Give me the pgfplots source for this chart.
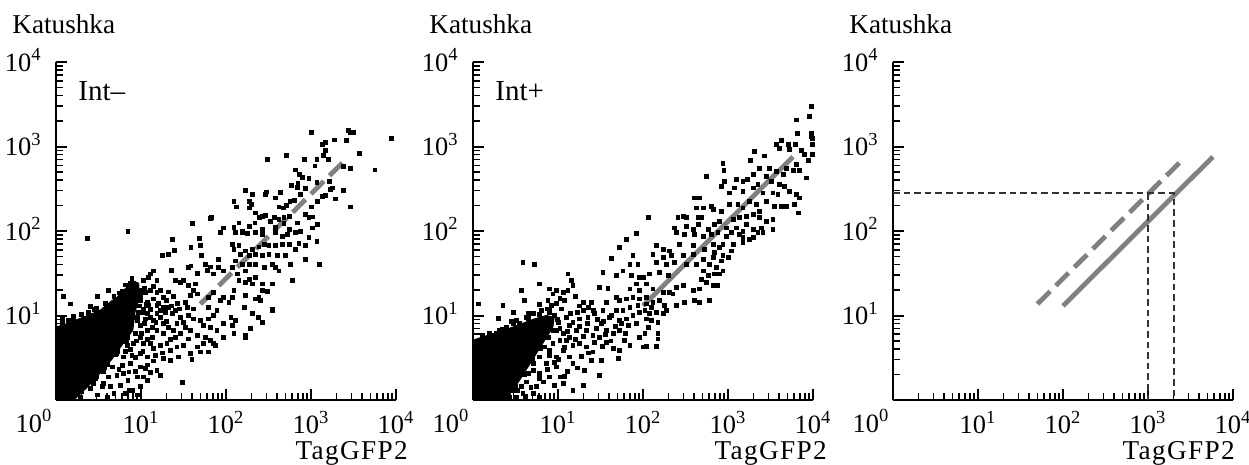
\documentclass[border=0pt]{standalone}
\usepackage{fontspec}
\setmainfont{Liberation Serif}
\newfontfamily\spacedfont[LetterSpace=5]{Liberation Serif}
\usepackage{pgfplots}
\pgfplotsset{compat=1.18}
\definecolor{fitgray}{RGB}{128,128,128}

\newcommand{\tickfont}{\fontsize{13.2bp}{15bp}\selectfont}
\newcommand{\ylabfont}{\fontsize{13.6bp}{16bp}\selectfont}
\newcommand{\xlabfont}{\spacedfont\fontsize{13.6bp}{16bp}\selectfont}

\pgfplotsset{
  every axis/.append style={
    width=170bp, height=169bp, scale only axis,
    anchor=south west,
    xmin=1, xmax=10000, ymin=1, ymax=10000,
    axis lines=left,
    axis line style={-, line width=1.2bp},
    tick align=inside,
    xtick={10,100,1000,10000},
    ytick={10,100,1000,10000},
    xticklabels={10\textsuperscript{1},10\textsuperscript{2},10\textsuperscript{3},10\textsuperscript{4}},
    yticklabels={10\textsuperscript{1},10\textsuperscript{2},10\textsuperscript{3},10\textsuperscript{4}},
    minor xtick={2,3,4,5,6,7,8,9,20,30,40,50,60,70,80,90,200,300,400,500,600,700,800,900,2000,3000,4000,5000,6000,7000,8000,9000},
    minor ytick={2,3,4,5,6,7,8,9,20,30,40,50,60,70,80,90,200,300,400,500,600,700,800,900,2000,3000,4000,5000,6000,7000,8000,9000},
    major tick length=5.5bp, minor tick length=3.3bp,
    tick style={black, line width=1bp},
    minor tick style={line width=0.75bp},
    xticklabel style={anchor=base, inner sep=0pt, yshift=-16.8bp, font=\tickfont},
    yticklabel style={anchor=base east, inner sep=0pt, xshift=-7bp, yshift=-4.5bp, font=\tickfont},
  },
}
\tikzset{
  kdots/.style={only marks, mark=square*, mark size=0.95bp, black},
  kblob/.style={fill=black, draw=black, line width=0.5bp},
  kfitdash/.style={fitgray, line width=2.4bp, dash pattern=on 9bp off 4bp},
  kfitsolid/.style={fitgray, line width=2.4bp},
  kguide/.style={black!80, line width=0.9bp, dash pattern=on 3.3bp off 2bp},
}

\begin{document}
\begin{tikzpicture}
\path[use as bounding box] (0,0) rectangle (624.5bp,232.5bp);

% ---------- panel 1: Int- ----------
\begin{loglogaxis}[name=p1, at={(28bp,32.5bp)}]
\addplot[kblob] coordinates {
(1,7.3)(1.34,8.0)(2.1,9.55)(3.3,11.5)(4.36,14.5)(5.2,16.4)(6.8,21.5)(8.1,25.8)(9.4,24)
(9.5,16)(8.5,11)(8,6.7)(6,4.5)(4.5,3)(3.2,2)(2.3,1.4)(1.7,1.05)(1.5,1)(1,1)(1,7.3)};
\addplot[kdots] coordinates {
(1020,1460)(2750,1550)(2930,1460)(3200,1460)(8900,1250)(1900,1200)(2630,1190)(1480,1130)(1360,1050)(1490,890)
(3670,820)(306,710)(518,780)(840,710)(1170,710)(1410,780)(1600,710)(1110,590)(5660,530)(2900,556)
(2420,582)(660,530)(736,464)(790,432)(947,417)(1170,377)(1630,388)(1780,323)(1700,312)(2400,301)
(593,348)(703,364)(690,330)(866,318)(170,304)(204,270)(290,270)(440,285)(301,290)(124,225)
(132,193)(190,225)(199,206)(187,188)(384,247)(420,193)(472,188)(566,225)(513,202)(631,232)
(743,270)(1010,193)(1190,225)(1350,258)(1490,263)(1950,240)(2930,193)(223,164)(249,144)(267,150)
(293,154)(367,146)(420,137)(481,144)(551,150)(866,157)(947,144)(1040,147)(124,111)(142,125)
(187,114)(219,125)(267,105)(335,131)(384,111)(481,123)(551,105)(690,125)(755,100)(1040,109)
(1190,120)(156,100)(40.5,122)(68,144)(66,140)(94,109)
(2.36,82)(7.0,98)(23.2,80)(49,82)(86,96)(17.7,51)(20.8,53)(24.7,59)(38.7,64)(50,67)
(51,51)(82,46)(22.7,34.4)(36.4,37)(38.7,38.7)(45.6,31.5)(57,40.5)(60,34.4)(65.5,37.7)(71.6,31)
(82,37)(94,33.8)(14.1,33.8)(12.9,31)(12.3,28.3)(15.4,25.8)(10.7,25.8)(4.17,19.7)(3.04,16.7)(1.23,16.7)
(1.47,13.7)(2.53,12.8)(8.6,20)(9.8,17.2)(11.2,18.8)(12.9,19.7)(15.4,18.8)(18.5,16.4)(11.8,14.4)(12.3,13.1)
(25.4,25.8)(29,24.7)(31.8,26.3)(36.4,22.5)(43.5,23.6)(41.7,19.7)(45.6,18)(38,17.2)(33.2,14.4)(34.8,12.5)
(41.7,12)(62.5,16.4)(71.6,18.8)(86,15)(94,16.4)(78,11.5)(62.5,12.5)(71.6,10)(8.2,9.55)(9.0,8.7)
(9.8,7.6)(11.2,9.1)(12.9,9.55)(15.4,10.5)(16.9,11.5)(19.3,10.9)(21.1,12.5)(23.2,10.5)(25.4,11.5)(29,9.55)
(26.5,8.0)(31.8,8.35)(36.4,10)(41.7,9.1)(50,8.7)(54.6,7.6)(62.5,9.1)(65.5,7.3)(78,6.7)(94,8.0)
(94,5.56)(7.2,6.7)(8.6,6.1)(9.8,5.56)(11.8,6.7)(13.5,5.56)(15.4,6.7)(18.5,6.1)(21.1,7.3)(24.2,6.7)
(25.4,5.56)(29,6.1)(33.2,7.3)(38,6.7)(36.4,5.3)(45.6,5.8)(57,5.56)(65.5,5.1)(71.6,4.64)(54.6,4.64)
(45.6,4.24)(6.25,5.1)(6.85,4.44)(8.2,4.64)(10.7,4.64)(12.9,4.64)(14.1,4.06)(16.9,4.44)(20.2,4.64)(22.1,3.87)
(26.5,4.24)(31.8,4.44)(38,3.54)(50,3.7)(62.5,3.7)(75,4.44)(5.2,3.54)(6.25,3.24)(7.8,3.38)(9.8,3.54)
(11.8,3.24)(14.7,3.38)(18.5,3.09)(22.1,2.96)(27.7,3.24)(39.8,3.0)(4.0,2.7)(4.56,2.47)(6.0,2.58)(7.5,2.7)
(9.8,2.47)(11.2,2.36)(15.4,2.25)(3.18,2.25)(4.17,1.88)(5.2,1.97)(6.25,2.06)(7.2,2.15)(9.0,1.88)(10.7,1.88)
(16.9,1.97)(2.21,1.72)(2.77,1.57)(3.64,1.57)(3.48,1.44)(4.36,1.44)(7.2,1.31)(9.8,1.44)(30.4,1.6)(1.85,1.31)
(2.53,1.37)(1.93,1.09)(3.04,1.15)(4.0,1.09)(9.0,1.15)(1.61,9.7)(1.18,9.1)
(9.8,15)(14.1,15.7)(15.4,13.1)(18.5,12.5)(10.7,12)(9.4,10.9)(14.1,8.7)(18.5,8.0)(8.2,13.1)(11.8,10.5)
(9.5,13)(10.5,11)(11,8)(10,6.2)(8.8,5)(7.5,4)(6.5,3.8)(8.5,3.2)(10.5,3.8)(12,5.2)
(13.5,7.2)(15,8.2)(17,9.5)(13,11.8)(11.5,13.5)(16,14)(20,15)(17,20)(14,22)(11,21)
(21,19)(24,17)(27,14)(23,13)(28,12)(20,8.5)(22,5.2)(18,3.6)(14,2.9)(12,2.6)
(8.5,2.2)(5.5,2.3)(7,1.7)(5.7,1.5)(12,1.7)(13,2.1)(4.8,1.2)(6.5,1.2)(8,1.3)(3,1.9)
(3.6,2.2)(2.6,1.9)
(1.2,8.2)(1.6,9.2)(2.4,10.8)(3,12.2)(3.8,14)(4.8,17)(6,19.5)(7.4,24)(2,10.2)(2.8,11.8)
(1.4,8.8)(5.5,18.5)(6.5,23)(7.8,27.5)(7,5.5)(5.3,3.8)(4,2.6)(2.9,1.8)(2,1.25)(9,9.5)
(8.8,13)(10,20)(6.8,4.9)(5,3.5)(3.7,2.4)
(130,96)(156,96)(178,93)(223,96)(267,91)(384,96)(460,87)(527,91)(660,96)(947,83.5)
(1170,75)(722,71)(866,67)(551,70)(460,70)(384,68)(320,67)(280,70)(244,65)(204,61)
(170,58)(142,67)(119,70)(124,61)(149,53)(187,51)(223,53)(267,51)(320,53)(402,51)
(504,52)(660,61)(866,46)(1265,40.5)(577,40.5)(351,40.5)(384,37)(420,33.8)(280,37)(223,40.5)
(187,40.5)(156,40.5)(130,44.4)(119,37)(170,33.8)(136,31)(142,25.8)(170,24.7)(187,27)(204,23.6)
(223,28.3)(267,23.6)(351,23.6)(603,25.8)(124,19.7)(119,16.4)(170,17.2)(267,19.7)(306,19.3)(223,15.7)
(256,15)(244,16.4)(351,12)(351,11.5)(108,14.4)(163,12.5)(204,10.5)(240,9.4)(267,8.35)(114,9.55)
(130,8.7)(119,7.6)(195,7.1)(124,6.1)(170,5.8)(170,5.5)};
\addplot[kfitdash] coordinates {(50,13.7)(2700,740)};
\end{loglogaxis}

% ---------- panel 2: Int+ ----------
\begin{loglogaxis}[name=p2, at={(236.5bp,32.5bp)}]
\addplot[kblob] coordinates {
(1,5.1)(1.72,6.1)(2.96,7.3)(5.1,9.0)(7.3,10)(9,9.5)(8.7,7.3)(6.97,5.1)(5.56,3.54)(4.44,2.47)
(3.54,1.72)(2.83,1.25)(2.36,1)(1,1)(1,5.1)};
\addplot[kdots] coordinates {
(9550,2960)(9150,2250)(6370,2060)(9550,1435)(9550,1310)(6550,1435)(4240,1170)(3700,1065)(5170,1065)(6200,1065)
(4060,955)(5320,915)(7290,890)(7980,798)(2060,873)(2700,776)(1830,684)(873,637)(897,518)(8900,684)
(6370,608)(6970,518)(8350,424)(5820,518)(4850,556)(4440,464)(3700,508)(3090,556)(2820,444)(2360,556)
(1970,464)(1690,405)(1500,388)(1250,405)(1200,323)(915,388)(835,338)(556,444)(1047,282)(1500,296)
(1970,323)(2250,354)(3230,388)(4060,354)(4640,338)(5320,296)(6370,270)(3870,270)(3380,282)(2580,282)
(405,247)(464,247)(424,188)(508,188)(637,197)(667,180)(835,172)(1047,206)(1310,206)(1500,188)
(1800,225)(2150,206)(2360,172)(2820,225)(3540,197)(4240,197)(4850,197)(6080,206)(6970,247)(6670,164)
(115,144)(258,144)(296,150)(323,144)(444,146)(486,144)(236,109)(323,114)(388,105)(444,120)
(582,105)(697,120)(798,131)(1145,137)(1372,144)(1645,150)(1970,157)(2360,144)(2820,131)(3380,137)
(1645,120)(1970,105)(2470,109)(3380,105)(1250,109)(1500,100)(955,109)(9900,1250)(9900,1050)(9900,800)
(83,95)
(247,96)(309,91)(405,91)(508,87)(637,91)(762,96)(955,87)(1094,96)(1372,91)(1500,83.5)
(1970,83.5)(2250,96)(2580,96)(873,70)(1145,70)(1500,73)(1800,80)(667,70)(144,67)(172,61)
(206,58)(270,70)(388,67)(531,61)(798,64)(1094,58)(131,53)(172,48.5)(215,51)(296,51)
(388,53)(697,55.6)(873,51)(1000,48.5)(835,44.4)(667,48.5)(508,46)(144,42.4)(188,40.5)(236,42.4)
(323,40.5)(424,40.5)(608,40.5)(729,37)(873,33.8)(798,31)(508,33.8)(486,27)(582,29.6)(697,31)
(556,24.7)(667,22.5)(762,22.5)(388,19.7)(464,20.6)(296,22.5)(247,21.5)(206,18.8)(172,18.8)(131,20.6)
(109,23.6)(100,28.3)(120,31)(157,32.4)(197,29.6)(109,16.4)(131,14.4)(157,15)(180,13.1)(144,10.9)
(120,10.5)(105,11.5)(109,9.1)(125,8.7)(150,8.35)(115,7.3)(105,6.1)(150,6.1)(150,5.3)(109,4.3)
(144,4.3)(225,18)(247,13.1)(309,14.4)(405,15)(464,14.4)(608,15.2)(109,13.7)(188,11.5)(172,10.5)
(125,12.5)
(83.5,93)(64,80)(53,64)(42.4,47.6)(76,51)(70,40.5)(87,40.5)(33.8,32.4)(48.5,29.6)(58,33.8)
(73,29.6)(91,28.3)(83.5,23.6)(70,20.6)(91,19.7)(31,21.5)(38.7,21.1)(48.5,16.4)(53,15)(64,15.7)
(76,16.4)(91,15.7)(87,13.1)(70,12.5)(58,11.5)(48.5,11.5)(42.4,10)(53,8.7)(64,9.1)(76,10)
(91,10.9)(83.5,8.0)(67,7.6)(53,6.7)(44.4,6.1)(37,6.7)(32.4,8.0)(27,10.5)(33.8,11.5)(37,14.4)
(24.7,14.4)(19.7,14.4)(19.7,11.5)(22.5,9.55)(18,9.1)(15,8.35)(12.5,9.55)(13.7,7.6)(16.4,6.7)(21.5,6.7)
(25.8,5.8)(31,5.56)(37,4.85)(44.4,4.06)(53,3.87)(70,4.44)(100,4.24)(91,5.56)(61,5.1)(51,3.09)
(32.4,2.96)(24.7,2.96)(20.6,2.25)(15,2.7)(13.7,3.24)(11.5,3.87)(9.55,3.24)(8.0,3.87)(10.5,5.1)(12.5,5.1)
(15,4.44)(18,4.64)(21.5,4.24)(25.8,3.7)(7.3,5.56)(8.7,6.7)(10.5,7.0)(6.1,7.6)(8.0,11.5)(7.6,15)
(8.7,18)(8.0,20.6)(9.55,19.7)(11.5,18.8)(13.1,19.7)(13.1,31)(14.4,25.8)(15,22.5)(6.1,23.6)(3.7,19.7)
(4.06,15)(3.87,42.4)(5.3,40.5)(2.25,13.1)(1.15,13.7)(2.96,8.0)(2.06,6.7)(1.5,5.3)(1.72,5.1)(1.31,4.44)
(1.2,3.54)(9.55,2.47)(10.5,1.88)(8.0,1.88)(6.7,1.64)(6.1,2.06)(7.3,2.7)(11.5,1.57)(4.24,1.64)(5.1,2.25)
(5.56,1.44)(3.87,1.2)(3.24,1.09)(2.7,1.09)(1.72,1.09)(1.44,1.05)(1.2,1.15)(1.09,1.31)(1.37,1.88)(1.2,2.25)
(1.15,2.96)(31,1.97)(19.7,1.5)(15,1.31)(6.1,1.09)(5.1,1.2)
(3.24,8.7)(4.24,9.4)(5.1,10.5)(6.37,11.5)(6.7,9.1)(5.1,8.35)(9.1,10)(10,8.35)(8.35,13.1)(2.47,7.3)
(1.57,6.1)(6.97,4.24)(6.1,3.24)(8.7,4.64)(5.1,2.7)(4.44,2.06)(3.7,1.44)(2.96,1.31)(11.5,6.1)(13.7,5.56)
(10,3)(12,4.2)(13,6.5)(16,5.2)(18,7.5)(20,5.6)(22,8)(23,12.5)(26,11.5)(17,11)
(14,10.5)(11,12)(9.5,14)(10.5,16)(12,15)(16,17)(18,13)(28,7)(29,9)(34,8.5)
(40,9.5)(36,6)(42,5)(47,7.4)(56,8.1)(62,6.2)(33,4.3)(27,4.8)(23,3.6)(19,3.3)
(17,2.4)(13,2.2)(9,2.8)(8,3.4)(7.5,2.3)(6,1.8)(4.8,1.4)(4.2,1.1)(9,1.5)(12,1.9)
(3.3,1.3)(2.3,1.2)(1.3,1.6)(1.6,2.6)(1.1,3.9)(1.4,4.3)(2.8,8.6)(4.5,10.5)(7.5,12)(6,13.5)
(3,11)(2,9.3)
(1.3,5.8)(2.2,6.9)(3.5,8.1)(4.5,9.3)(6,10.2)(8,11)(9.8,9)(9.5,6.6)(7.8,5.5)(6.2,4.1)
(5,3)(4,2)(3.2,1.45)(2.6,1.1)(1.9,6.2)};
\addplot[kfitsolid] coordinates {(100,13)(5800,755)};
\end{loglogaxis}

% ---------- panel 3: both fits ----------
\begin{loglogaxis}[name=p3, at={(446.5bp,32.5bp)}]
\addplot[kfitdash] coordinates {(50,13.7)(2700,740)};
\addplot[kfitsolid] coordinates {(100,13)(5800,755)};
\addplot[kguide] coordinates {(1,280)(2000,280)(2000,1)};
\addplot[kguide] coordinates {(1000,280)(1000,1)};
\end{loglogaxis}

% ---------- texts ----------
\foreach \p/\tx in {p1/6bp, p2/7bp, p3/1bp}{
  \node[anchor=base west, inner sep=0pt, font=\ylabfont] at ([xshift=-22bp, yshift=14.3bp]\p.north west) {Katushka};
  \node[anchor=base east, inner sep=0pt, font=\xlabfont] at ([xshift=\tx, yshift=-29.5bp]\p.south east) {TagGFP2};
  \node[anchor=base, inner sep=0pt, font=\tickfont] at ([xshift=-11bp, yshift=-16bp]\p.south west) {10\textsuperscript{0}};
}
\node[anchor=base west, inner sep=0pt, font=\fontsize{14.5bp}{17bp}\selectfont] at ([xshift=11bp, yshift=-19bp]p1.north west) {Int--};
\node[anchor=base west, inner sep=0pt, font=\fontsize{14.5bp}{17bp}\selectfont] at ([xshift=11bp, yshift=-19bp]p2.north west) {Int+};
\end{tikzpicture}
\end{document}
